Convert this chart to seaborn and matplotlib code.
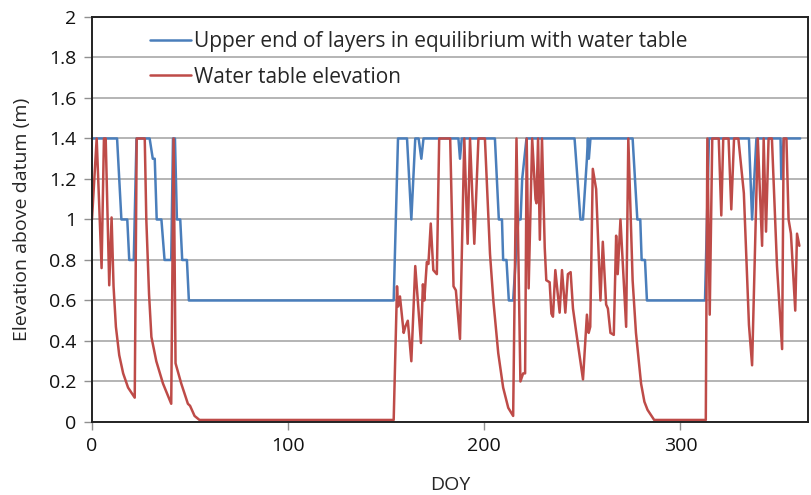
import numpy as np
import pandas as pd
import matplotlib
matplotlib.use("Agg")
import matplotlib.pyplot as plt
import seaborn as sns

# Datos (DOY, elevacion en m)
doy_capas = [0, 12.8, 15, 18, 19, 21.3, 22.7, 29.4, 31, 32, 33, 35.4, 37, 40.4,
             41.3, 42.3, 43.3, 45, 46, 48.4, 49.4, 153.8, 156, 160.6, 162.8,
             164.8, 166.5, 167.9, 169, 186.8, 187.6, 188.5, 205.4, 207.4, 209,
             209.6, 211.3, 212.5, 214.7, 217.3, 218.5, 219.3, 221.5, 246, 249,
             250.3, 252.3, 252.8, 253.3, 254.1, 275.6, 278, 279.5, 280.2, 281.9,
             282.9, 312.5, 314.5, 334.9, 336.5, 338.7, 351, 351.4, 352.6, 361]
capas = [1.4, 1.4, 1.0, 1.0, 0.8, 0.8, 1.4, 1.4, 1.3, 1.3, 1.0, 1.0, 0.8, 0.8,
         1.4, 1.4, 1.0, 1.0, 0.8, 0.8, 0.6, 0.6, 1.4, 1.4, 1.0,
         1.4, 1.4, 1.3, 1.4, 1.4, 1.3, 1.4, 1.4, 1.0, 1.0,
         0.8, 0.8, 0.6, 0.6, 1.0, 1.0, 1.2, 1.4, 1.4, 1.0,
         1.0, 1.3, 1.4, 1.3, 1.4, 1.4, 1.0, 1.0, 0.8, 0.8,
         0.6, 0.6, 1.4, 1.4, 1.0, 1.4, 1.4, 1.2, 1.4, 1.4]

doy_freatico = [0, 2.4, 4.9, 6.1, 7.0, 8.8, 10, 11.0, 12.2, 13.9, 15.9, 18.4, 21.8,
                22.8, 26.9, 27.7, 29.1, 30.3, 32.8, 36.2, 40.4, 41.6, 42.6, 45.5,
                48.9, 50, 52.3, 54.8, 153.8, 155.5, 156, 157, 158.9, 159.7, 161,
                162.8, 164.8, 167.7, 168.7, 169.4, 170.7, 171.5, 172.7, 174, 175.8,
                177, 182.6, 184.3, 185.5, 187.6, 189.8, 191.5, 192.7, 194.9, 197,
                200.3, 202.9, 204.6, 207.1, 209.6, 212.2, 214.7, 216.4, 218.4,
                219.8, 220.8, 221.6, 222.6, 224.4, 226.1, 226.6, 227.4, 228.3,
                229.4, 230.8, 231.6, 233.3, 234.2, 235, 236.2, 238.4, 239.6, 241.3,
                242.6, 244, 245.2, 246.9, 250.3, 252.3, 253.2, 254, 255.3, 257,
                259.2, 260.4, 262.1, 263, 264.3, 266, 267.2, 268, 269.4, 272.3,
                273.4, 275.6, 277.3, 279.9, 281.6, 283.2, 286.6, 312.9, 313.7,
                314.9, 316.2, 319.5, 320.8, 321.8, 324.5, 325.9, 327.3, 329.5,
                332.3, 334.9, 336.5, 339.4, 341.6, 342.4, 343.6, 344.9, 346.6,
                349.2, 351.8, 352.6, 354, 355.1, 356.3, 358.5, 359.4, 360.6]
freatico = [1.0, 1.4, 0.76, 1.4, 1.4, 0.675, 1.01, 0.67, 0.47, 0.33, 0.24, 0.17, 0.12,
            1.4, 1.4, 1.0, 0.63, 0.42, 0.30, 0.19, 0.09, 1.4, 0.29, 0.19,
            0.09, 0.08, 0.03, 0.01, 0.01, 0.67, 0.57, 0.62, 0.44, 0.47, 0.5,
            0.30, 0.77, 0.39, 0.68, 0.60, 0.79, 0.78, 0.98, 0.75, 0.73,
            1.4, 1.4, 0.67, 0.65, 0.41, 1.4, 0.88, 1.4, 0.88, 1.4,
            1.4, 0.83, 0.6, 0.34, 0.17, 0.07, 0.03, 1.4, 0.2,
            0.24, 0.24, 1.4, 0.66, 1.4, 1.1, 1.08, 1.4, 0.9,
            1.4, 0.86, 0.7, 0.69, 0.535, 0.52, 0.75, 0.54, 0.75, 0.54,
            0.73, 0.74, 0.56, 0.44, 0.21, 0.53, 0.44, 0.47, 1.25, 1.15,
            0.6, 0.89, 0.58, 0.56, 0.44, 0.43, 0.92, 0.73, 1.0, 0.47,
            1.4, 0.7, 0.44, 0.19, 0.1, 0.06, 0.01, 0.01, 1.4,
            0.53, 1.4, 1.4, 1.02, 1.4, 1.4, 1.05, 1.4, 1.4,
            1.13, 0.48, 0.28, 1.4, 0.87, 1.4, 0.94, 1.4, 1.4,
            0.77, 0.36, 1.4, 1.4, 1.0, 0.93, 0.55, 0.93, 0.87]

etiqueta_capas = "Upper end of layers in equilibrium with water table"
etiqueta_freatico = "Water table elevation"

sns.set_style("white")
plt.rcParams["font.family"] = ["Open Sans", "DejaVu Sans"]

fig, ax = plt.subplots(figsize=(8.11, 4.95), dpi=100)
fig.subplots_adjust(left=0.1134, right=0.9963, top=0.9657, bottom=0.1475)

sns.lineplot(x=doy_capas, y=capas, ax=ax, color="#4A7EBB", linewidth=1.8,
             sort=False, estimator=None, label=etiqueta_capas)
sns.lineplot(x=doy_freatico, y=freatico, ax=ax, color="#BE4B48", linewidth=1.8,
             sort=False, estimator=None, label=etiqueta_freatico)

ax.set_xlim(0, 365)
ax.set_ylim(0, 2)
ax.set_xticks([0, 100, 200, 300])
ax.set_yticks(np.arange(0, 2.01, 0.2))
ax.yaxis.set_major_formatter(matplotlib.ticker.FormatStrFormatter("%g"))
ax.yaxis.grid(True, color="#a0a0a0", linewidth=1.1)
ax.set_axisbelow(True)
for s in ax.spines.values():
    s.set_color("#222222")
    s.set_linewidth(1.4)
ax.tick_params(axis="both", direction="out", length=6, width=1, color="#909090",
               labelsize=14, labelcolor="#111111", left=True, bottom=True, pad=5)
ax.set_xlabel("DOY", fontsize=14, labelpad=15)
ax.set_ylabel("Elevation above datum (m)", fontsize=14, labelpad=13)

ax.legend(loc="upper left", bbox_to_anchor=(0.081, 0.965), frameon=False, fontsize=15,
          handlelength=1.95, handletextpad=0.15, labelspacing=0.7,
          borderaxespad=0, borderpad=0)

fig.savefig("out.png", dpi=100)
